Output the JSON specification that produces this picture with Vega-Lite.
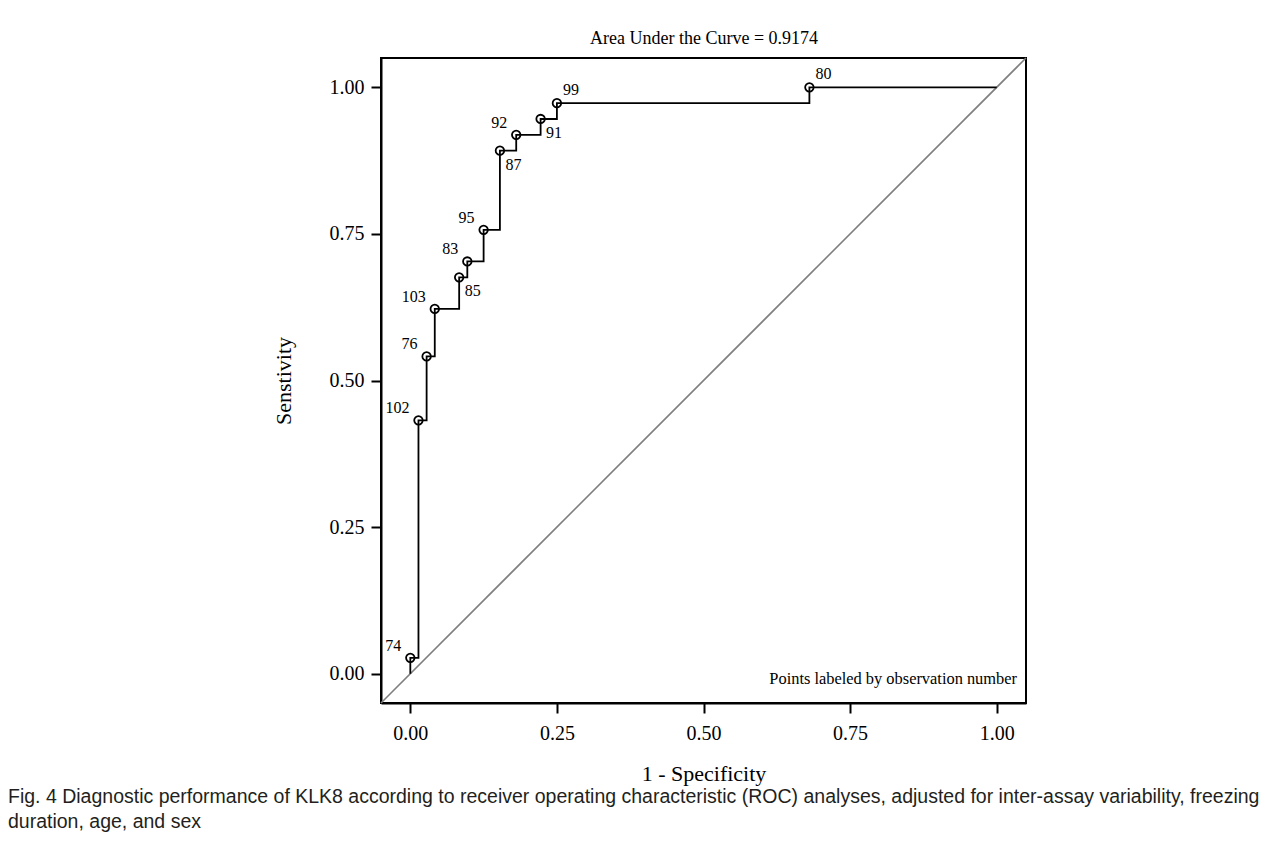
{
  "$schema": "https://vega.github.io/schema/vega-lite/v6.json",
  "width": 645,
  "height": 645,
  "autosize": {"type": "none"},
  "padding": {"left": 381, "top": 58, "right": 258, "bottom": 159},
  "background": "white",
  "title": {
    "text": ["Fig. 4  Diagnostic performance of KLK8 according to receiver operating characteristic (ROC) analyses, adjusted for inter-assay variability, freezing", "duration, age, and sex"],
    "orient": "bottom",
    "anchor": "start",
    "frame": "group",
    "dx": -373,
    "offset": 4,
    "font": "Liberation Sans",
    "fontSize": 19.5,
    "fontWeight": "normal",
    "color": "#231f20",
    "lineHeight": 25
  },
  "config": {
    "view": {"stroke": "black", "strokeWidth": 2},
    "axis": {
      "labelFont": "Liberation Serif",
      "titleFont": "Liberation Serif",
      "labelColor": "black",
      "titleColor": "black",
      "titleFontWeight": "normal",
      "gridColor": "#e3e3e3",
      "gridWidth": 1.5,
      "domainColor": "black",
      "domainWidth": 2,
      "tickColor": "black",
      "tickWidth": 2,
      "tickSize": 10
    }
  },
  "datasets": {
    "roc": [
      {"fpr": 0.0, "sens": 0.0, "obs": null},
      {"fpr": 0.0, "sens": 0.027, "obs": "74"},
      {"fpr": 0.0139, "sens": 0.432, "obs": "102"},
      {"fpr": 0.0278, "sens": 0.541, "obs": "76"},
      {"fpr": 0.0417, "sens": 0.622, "obs": "103"},
      {"fpr": 0.0833, "sens": 0.676, "obs": "85"},
      {"fpr": 0.0972, "sens": 0.703, "obs": "83"},
      {"fpr": 0.125, "sens": 0.757, "obs": "95"},
      {"fpr": 0.1528, "sens": 0.892, "obs": "87"},
      {"fpr": 0.1806, "sens": 0.919, "obs": "92"},
      {"fpr": 0.2222, "sens": 0.946, "obs": "91"},
      {"fpr": 0.25, "sens": 0.973, "obs": "99"},
      {"fpr": 0.6806, "sens": 1.0, "obs": "80"},
      {"fpr": 1.0, "sens": 1.0, "obs": null}
    ],
    "one": [{}]
  },
  "resolve": {"axis": {"x": "independent"}},
  "layer": [
    {
      "data": {"name": "one"},
      "mark": {"type": "rule", "color": "#7f7f7f", "strokeWidth": 1.6},
      "encoding": {
        "x": {"datum": -0.05, "type": "quantitative", "scale": {"domain": [-0.05, 1.05], "nice": false, "zero": false},
              "axis": {"orient": "top", "grid": false, "labels": false, "ticks": false, "domain": false, "title": "Area Under the Curve = 0.9174", "titleFontSize": 18, "titlePadding": 11}},
        "y": {"datum": -0.05, "type": "quantitative", "scale": {"domain": [-0.05, 1.05], "nice": false, "zero": false}},
        "x2": {"datum": 1.05},
        "y2": {"datum": 1.05}
      }
    },
    {
      "data": {"name": "roc"},
      "mark": {"type": "line", "interpolate": "step-after", "color": "black", "strokeWidth": 1.8},
      "encoding": {
        "x": {
          "field": "fpr",
          "type": "quantitative",
          "axis": {
            "values": [0, 0.25, 0.5, 0.75, 1],
            "format": ".2f",
            "labelFontSize": 20,
            "labelPadding": 10,
            "title": "1 - Specificity",
            "titleFontSize": 22,
            "titlePadding": 20
          }
        },
        "y": {
          "field": "sens",
          "type": "quantitative",
          "axis": {
            "values": [0, 0.25, 0.5, 0.75, 1],
            "format": ".2f",
            "labelFontSize": 20,
            "labelPadding": 7,
            "title": "Senstivity",
            "titleFontSize": 22,
            "titlePadding": 34
          }
        },
        "order": {"value": null}
      }
    },
    {
      "data": {"name": "roc"},
      "transform": [{"filter": "datum.obs != null"}],
      "mark": {"type": "point", "shape": "circle", "filled": false, "stroke": "black", "strokeWidth": 1.8, "size": 72, "opacity": 1},
      "encoding": {
        "x": {"field": "fpr", "type": "quantitative", "axis": null},
        "y": {"field": "sens", "type": "quantitative"}
      }
    },
    {
      "data": {"name": "roc"},
      "transform": [{"filter": {"field": "obs", "oneOf": ["74", "102", "76", "103", "83", "95", "92"]}}],
      "mark": {"type": "text", "align": "right", "baseline": "middle", "dx": -9, "dy": -12, "font": "Liberation Serif", "fontSize": 16, "color": "black"},
      "encoding": {
        "x": {"field": "fpr", "type": "quantitative", "axis": null},
        "y": {"field": "sens", "type": "quantitative"},
        "text": {"field": "obs"}
      }
    },
    {
      "data": {"name": "roc"},
      "transform": [{"filter": {"field": "obs", "oneOf": ["85", "87", "91"]}}],
      "mark": {"type": "text", "align": "left", "baseline": "middle", "dx": 5.5, "dy": 14, "font": "Liberation Serif", "fontSize": 16, "color": "black"},
      "encoding": {
        "x": {"field": "fpr", "type": "quantitative", "axis": null},
        "y": {"field": "sens", "type": "quantitative"},
        "text": {"field": "obs"}
      }
    },
    {
      "data": {"name": "roc"},
      "transform": [{"filter": {"field": "obs", "oneOf": ["99", "80"]}}],
      "mark": {"type": "text", "align": "left", "baseline": "middle", "dx": 6, "dy": -13, "font": "Liberation Serif", "fontSize": 16, "color": "black"},
      "encoding": {
        "x": {"field": "fpr", "type": "quantitative", "axis": null},
        "y": {"field": "sens", "type": "quantitative"},
        "text": {"field": "obs"}
      }
    },
    {
      "data": {"name": "one"},
      "mark": {"type": "text", "align": "right", "baseline": "alphabetic", "dx": -9, "dy": -19, "font": "Liberation Serif", "fontSize": 16.4, "color": "black"},
      "encoding": {
        "x": {"datum": 1.05, "type": "quantitative", "axis": null},
        "y": {"datum": -0.05, "type": "quantitative"},
        "text": {"value": "Points labeled by observation number"}
      }
    }
  ]
}
